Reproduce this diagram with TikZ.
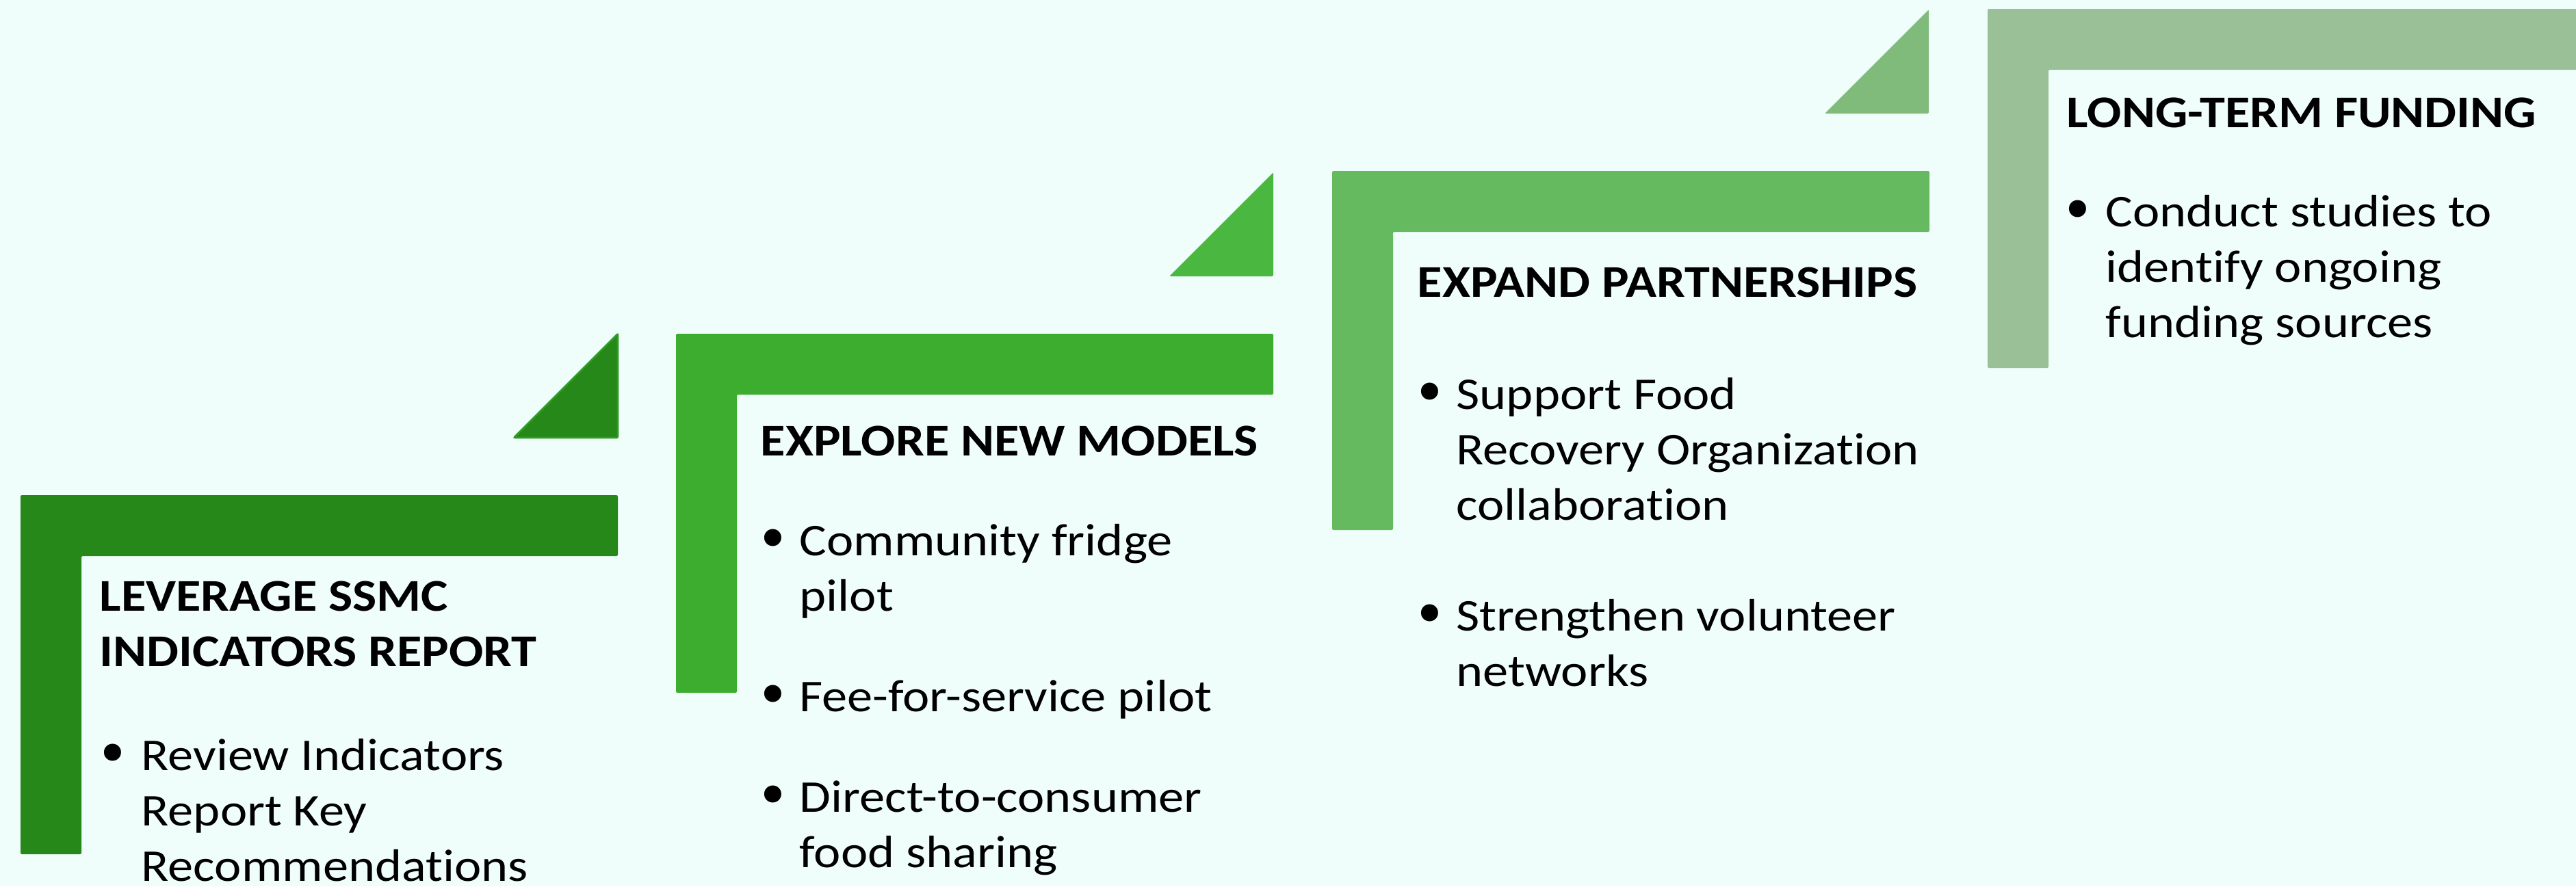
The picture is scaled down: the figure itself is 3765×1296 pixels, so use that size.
\documentclass[tikz,border=0pt]{standalone}
\usepackage{fontspec}
\setmainfont{Carlito}[FakeStretch=1.12, Ligatures=NoCommon]
\newfontfamily\bulfont{DejaVu Sans}
\definecolor{bgc}{RGB}{240,254,251}
\definecolor{gA}{RGB}{38,136,24}
\definecolor{gAe}{RGB}{46,156,38}
\definecolor{gB}{RGB}{61,173,48}
\definecolor{gBt}{RGB}{74,183,64}
\definecolor{gC}{RGB}{101,186,96}
\definecolor{gCt}{RGB}{128,187,124}
\definecolor{gD}{RGB}{154,192,152}
\newcommand\stepL[3]{\fill[#3, rounded corners=0.6pt] (#1,#2) -- ++(873,0) -- ++(0,89) -- ++(-784,0) -- ++(0,436) -- ++(-89,0) -- cycle;}
\newcommand\lns[1]{\vtop{#1}}
\begin{document}
\begin{tikzpicture}[x=0.01cm,y=-0.01cm,
  ttl/.style={anchor=base west, inner sep=0pt, font=\bfseries\fontsize{18.9}{23.05}\selectfont},
  bodytxt/.style={anchor=base west, inner sep=0pt, font=\fontsize{18.9}{23.05}\selectfont},
  bul/.style={anchor=base west, inner sep=0pt, yshift=-0.06cm, xshift=-0.03cm, font=\bulfont\fontsize{24.5}{23.05}\selectfont},
  tri/.style={rounded corners=0.6pt}]
\useasboundingbox (0,0) rectangle (3765,1296);
\clip (0,0) rectangle (3765,1296);
\fill[bgc] (0,0) rectangle (3765,1296);

% L-shaped steps
\stepL{30}{724}{gA}
\stepL{988}{488}{gB}
\stepL{1947}{250}{gC}
\stepL{2905}{13}{gD}

% triangles
\filldraw[tri, fill=gA, draw=gAe, line width=0.8pt] (903-152,640) -- (903,640) -- (903,488) -- cycle;
\fill[tri, gBt] (1861-152,404) -- (1861,404) -- (1861,252) -- cycle;
\fill[tri, gCt] (2819-152,166) -- (2819,166) -- (2819,14) -- cycle;

% Block 1
\node[ttl] (t1) at (145,893) {\lns{\hbox{LEVERAGE SSMC}\hbox{INDICATORS REPORT}}};
\node[bul] (b11) at (142,1126) {•};
\node[bodytxt] (i11) at (206,1126) {\lns{\hbox{Review Indicators}\hbox{Report Key}\hbox{Recommendations}}};

% Block 2
\node[ttl] (t2) at (1111,666) {EXPLORE NEW MODELS};
\node[bul] (b21) at (1107,812) {•};
\node[bodytxt] (i21) at (1168,812) {\lns{\hbox{Community fridge}\hbox{pilot}}};
\node[bul] (b22) at (1107,1040) {•};
\node[bodytxt] (i22) at (1168,1040) {Fee-for-service pilot};
\node[bul] (b23) at (1107,1187) {•};
\node[bodytxt] (i23) at (1168,1187) {\lns{\hbox{Direct-to-consumer}\hbox{food sharing}}};

% Block 3
\node[ttl] (t3) at (2071,434) {EXPAND PARTNERSHIPS};
\node[bul] (b31) at (2067,598) {•};
\node[bodytxt] (i31) at (2128,598) {\lns{\hbox{Support Food}\hbox{Recovery Organization}\hbox{collaboration}}};
\node[bul] (b32) at (2067,922) {•};
\node[bodytxt] (i32) at (2128,922) {\lns{\hbox{Strengthen volunteer}\hbox{networks}}};

% Block 4
\node[ttl] (t4) at (3020,186) {LONG-TERM FUNDING};
\node[bul] (b41) at (3014,331) {•};
\node[bodytxt] (i41) at (3077,331) {\lns{\hbox{Conduct studies to}\hbox{identify ongoing}\hbox{funding sources}}};
\end{tikzpicture}
\end{document}
